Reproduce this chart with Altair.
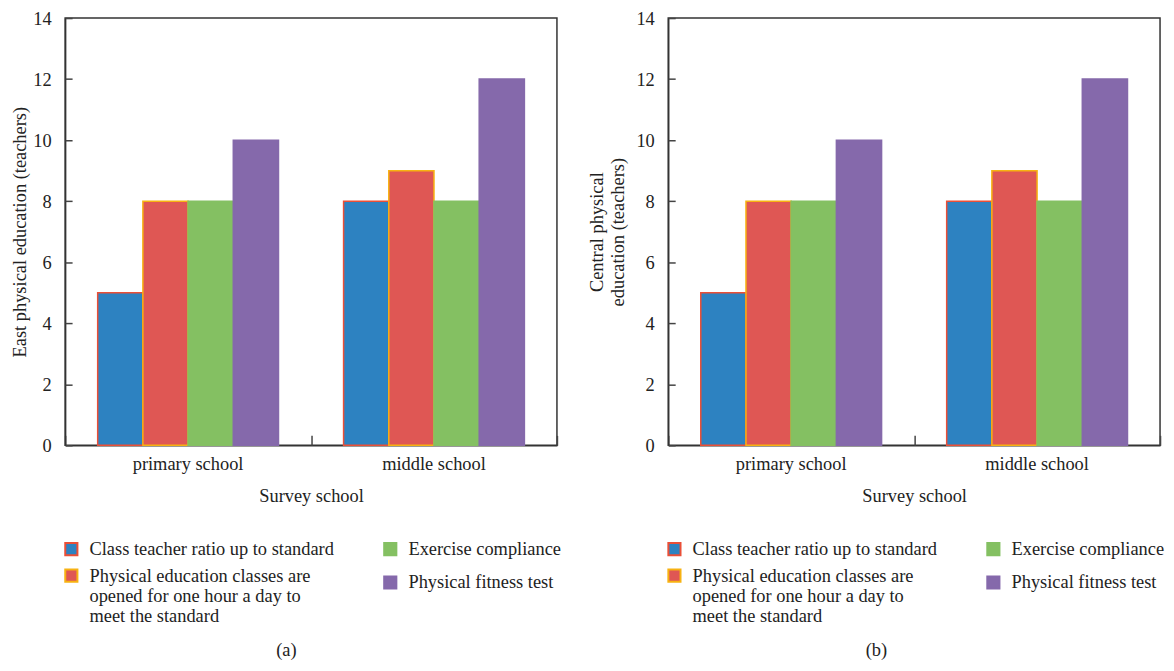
import altair as alt
import pandas as pd

schools = ["primary school", "middle school"]
series = [
    "Class teacher ratio up to standard",
    "Physical education classes are opened for one hour a day to meet the standard",
    "Exercise compliance",
    "Physical fitness test",
]
east_primary = [5, 8, 8, 10]
east_middle = [8, 9, 8, 12]
central_primary = [5, 8, 8, 10]
central_middle = [8, 9, 8, 12]

fills = ["#2d82c1", "#df5754", "#84c062", "#8569ab"]
strokes = ["#ea4f37", "#f7b212", "#84c062", "#8569ab"]

# legend is laid out row-major, reference reads column-major
legend_order = [series[0], series[2], series[1], series[3]]
legend_fills = [fills[0], fills[2], fills[1], fills[3]]
legend_strokes = [strokes[0], strokes[2], strokes[1], strokes[3]]

FONT = "Liberation Serif, DejaVu Serif, serif"
W, H = 495, 430
FS = 18.5

label_expr = (
    "datum.label == '" + series[1] + "' ? "
    "['Physical education classes are', 'opened for one hour a day to', 'meet the standard'] : datum.label"
)


def make_df(prim, mid):
    rows = []
    for s, v in zip(series, prim):
        rows.append({"school": schools[0], "series": s, "value": v})
    for s, v in zip(series, mid):
        rows.append({"school": schools[1], "series": s, "value": v})
    return pd.DataFrame(rows)


def panel(df, ytitle, caption, title_pad):
    leg = alt.Legend(
        title=None, orient="none", legendX=-3, legendY=H + 95, columns=2,
        direction="horizontal", symbolType="square", symbolSize=150,
        symbolStrokeWidth=2, labelFont=FONT, labelFontSize=FS, labelColor="#222",
        labelExpr=label_expr, labelLimit=400, columnPadding=46, rowPadding=6,
        labelOffset=9, labelBaseline="middle", padding=0,
    )
    xsc = alt.Scale(paddingInner=0, paddingOuter=0)
    xoff = alt.XOffset("series:N", sort=series, scale=alt.Scale(paddingOuter=0.72, paddingInner=0))
    ysc = alt.Scale(domain=[0, 14], nice=False)
    ticks14 = [0, 2, 4, 6, 8, 10, 12, 14]

    bars = alt.Chart(df).mark_bar(strokeWidth=1.5).encode(
        x=alt.X("school:N", sort=schools, scale=xsc,
                axis=alt.Axis(title="Survey school", labelAngle=0, ticks=False,
                              domainColor="#333", domainWidth=1.5,
                              labelFont=FONT, labelFontSize=FS, labelColor="#222", labelPadding=9,
                              titleFont=FONT, titleFontSize=FS, titleFontWeight="normal",
                              titleColor="#222", titlePadding=14)),
        xOffset=xoff,
        y=alt.Y("value:Q", scale=ysc,
                axis=alt.Axis(title=ytitle, values=ticks14, tickSize=0, grid=False,
                              domainColor="#333", domainWidth=1.5,
                              labelFont=FONT, labelFontSize=FS, labelColor="#222", labelPadding=14,
                              titleFont=FONT, titleFontSize=FS, titleFontWeight="normal",
                              titleColor="#222", titlePadding=title_pad)),
        fill=alt.Fill("series:N", scale=alt.Scale(domain=legend_order, range=legend_fills), legend=leg),
        stroke=alt.Stroke("series:N", scale=alt.Scale(domain=legend_order, range=legend_strokes), legend=leg),
    )
    tick_layer = alt.Chart(df).mark_bar(opacity=0).encode(
        x=alt.X("school:N", sort=schools, scale=xsc,
                axis=alt.Axis(orient="top", offset=-H, labels=False, domain=False, title=None,
                              tickBand="extent", tickSize=10, tickColor="#444", tickWidth=1.5)),
        xOffset=xoff,
        y=alt.Y("value:Q", scale=ysc,
                axis=alt.Axis(orient="right", offset=-W, labels=False, domain=False, title=None,
                              values=ticks14, tickSize=7, tickColor="#444", tickWidth=1.5, grid=False)),
    )
    return alt.layer(bars, tick_layer).resolve_axis(x="independent", y="independent").properties(
        width=W, height=H,
        view=alt.ViewBackground(stroke="#333", strokeWidth=1.5),
        title=alt.TitleParams(caption, orient="bottom", anchor="middle", frame="bounds", font=FONT,
                              fontSize=FS, fontWeight="normal", color="#222", offset=15),
    )


a = panel(make_df(east_primary, east_middle), "East physical education (teachers)", "(a)", 3)
b = panel(make_df(central_primary, central_middle), ["Central physical", "education (teachers)"], "(b)", 9)

chart = alt.hconcat(a, b, spacing=24).resolve_scale(
    x="independent", y="independent", fill="independent", stroke="independent"
).resolve_legend(fill="independent", stroke="independent").properties(
    padding={"left": 1.5, "top": -2, "right": 0, "bottom": 0}
).configure_view(stroke="#333", strokeWidth=1.5).configure(background="white", font=FONT)

chart.save("out.html", embed_options={"renderer": "svg", "actions": False})
